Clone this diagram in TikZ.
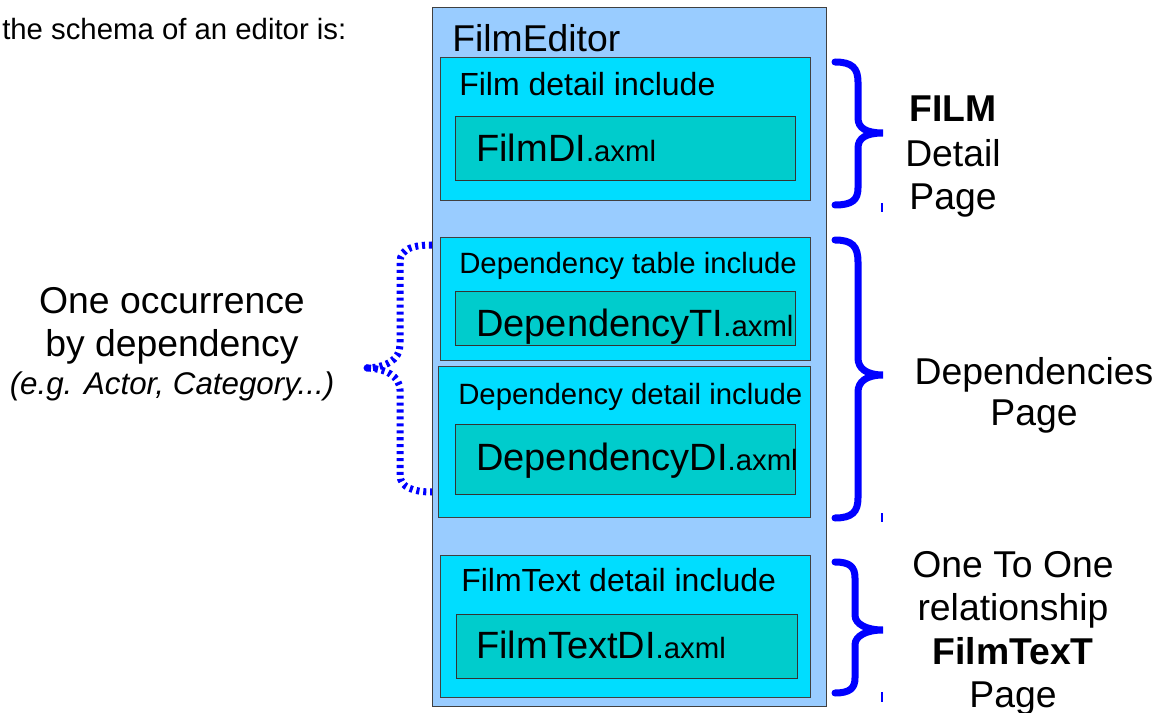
\documentclass[tikz,border=0pt]{standalone}
\usepackage{fontspec}
\setmainfont{Liberation Sans}
\definecolor{outerblue}{RGB}{153,204,255}
\definecolor{boxcyan}{RGB}{0,221,255}
\definecolor{innerteal}{RGB}{0,204,204}
\definecolor{braceblue}{RGB}{0,0,255}
\newcommand{\bigfs}{\fontsize{28}{33}\selectfont}
\newcommand{\lblfs}{\fontsize{24}{28}\selectfont}
\newcommand{\deplblfs}{\fontsize{22}{26}\selectfont}
\newcommand{\fname}[1]{{\fontsize{28.5}{32}\selectfont #1}{\fontsize{22}{26}\selectfont .axml}}
\begin{document}
\begin{tikzpicture}[x=0.75pt,y=-0.75pt,
  outerbox/.style={draw=black!75, fill=outerblue, line width=0.7pt, anchor=north west, inner sep=0pt},
  incbox/.style={draw=black!75, fill=boxcyan, line width=0.7pt, anchor=north west, inner sep=0pt},
  filebox/.style={draw=black!80, fill=innerteal, line width=0.7pt, anchor=north west, inner sep=0pt},
  txt/.style={anchor=base west, inner sep=0pt},
  ctxt/.style={anchor=base, inner sep=0pt},
  bracepath/.style={draw=braceblue, line width=5.25pt, line cap=round},
  dbracepath/.style={draw=braceblue, line width=5.25pt, dash pattern=on 2.3pt off 2.9pt},
  tickmark/.style={draw=braceblue, line width=1.3pt}]
\useasboundingbox (0,0) rectangle (1158,713);

% title
\node[txt] (title) at (2,40) {\deplblfs the schema of an editor is:};

% outer editor box
\node[outerbox, minimum width=295.5pt, minimum height=524.25pt] (editor) at (432,7) {};
\node[txt] (editorlbl) at (452,52) {\fontsize{28}{32}\selectfont FilmEditor};

% film detail include
\node[incbox, minimum width=277.5pt, minimum height=107.25pt] (box1) at (440,57) {};
\node[txt] (lbl1) at (459,96) {\lblfs Film detail include};
\node[filebox, minimum width=255pt, minimum height=48pt] (file1) at (455,116) {};
\node[txt] (fn1) at (476,162) {\fname{FilmDI}};

% dependency table include
\node[incbox, minimum width=277.5pt, minimum height=92.25pt] (box2) at (440,237) {};
\node[txt] (lbl2) at (459,274) {\deplblfs Dependency table include};
\node[filebox, minimum width=255pt, minimum height=40.5pt] (file2) at (455,291) {};
\node[txt] (fn2) at (476,336) {\fname{DependencyTI}};

% dependency detail include
\node[incbox, minimum width=279pt, minimum height=113.25pt] (box3) at (438,366) {};
\node[txt] (lbl3) at (458,404) {\deplblfs Dependency detail include};
\node[filebox, minimum width=255pt, minimum height=52.5pt] (file3) at (455,424) {};
\node[txt] (fn3) at (476,470) {\fname{DependencyDI}};

% filmtext detail include
\node[incbox, minimum width=277.5pt, minimum height=106.5pt] (box4) at (440,555) {};
\node[txt] (lbl4) at (461,591) {\lblfs FilmText detail include};
\node[filebox, minimum width=255.75pt, minimum height=48pt] (file4) at (456,614) {};
\node[txt] (fn4) at (476,658) {\fname{FilmTextDI}};

% right braces
\path[bracepath] (835,62) .. controls (852,62) and (858,68) .. (858,82) -- (858,118) .. controls (858,128) and (866,133) .. (883,133) .. controls (866,133) and (858,138) .. (858,148) -- (858,188) .. controls (858,200) and (852,205) .. (835,205);
\path[bracepath] (835,240) .. controls (852,240) and (858,246) .. (858,262) -- (858,358) .. controls (858,368) and (866,375) .. (883,375) .. controls (866,375) and (858,382) .. (858,392) -- (858,498) .. controls (858,512) and (852,518) .. (835,518);
\path[bracepath] (835,562) .. controls (850,562) and (855,567) .. (855,578) -- (855,615) .. controls (855,624) and (866,630) .. (883,630) .. controls (866,630) and (855,636) .. (855,645) -- (855,678) .. controls (855,688) and (850,693) .. (835,693);
\coordinate (t1a) at (882,203); \coordinate (t1b) at (882,212);
\coordinate (t2a) at (882,513); \coordinate (t2b) at (882,522);
\coordinate (t3a) at (882,692); \coordinate (t3b) at (882,702);
\draw[tickmark] (t1a) -- (t1b);
\draw[tickmark] (t2a) -- (t2b);
\draw[tickmark] (t3a) -- (t3b);

% left dotted brace
\path[dbracepath] (432,245) .. controls (415,245) and (400,248) .. (400,262) -- (400,345) .. controls (400,360) and (385,368) .. (365,368) .. controls (385,368) and (400,376) .. (400,390) -- (400,475) .. controls (400,488) and (415,492) .. (432,492);
\fill[braceblue] (367,368) circle (2.6pt);

% right texts
\node[ctxt] (r1a) at (953,122) {\bigfs\bfseries FILM};
\node[ctxt] (r1b) at (953,167) {\bigfs Detail};
\node[ctxt] (r1c) at (953,210) {\bigfs Page};
\node[ctxt] (r2a) at (1034,384) {\bigfs Dependencies};
\node[ctxt] (r2b) at (1034,425) {\bigfs Page};
\node[ctxt] (r3a) at (1013,577) {\bigfs One To One};
\node[ctxt] (r3b) at (1013,620) {\bigfs relationship};
\node[ctxt] (r3c) at (1013,664) {\bigfs\bfseries FilmTexT};
\node[ctxt] (r3d) at (1013,707) {\bigfs Page};

% left texts
\node[ctxt] (l1) at (172,314) {\bigfs One occurrence};
\node[ctxt] (l2) at (172,357) {\bigfs by dependency};
\node[ctxt] (l3) at (172,394) {\fontsize{23.5}{27}\selectfont\itshape (e.g. Actor, Category...)};
\end{tikzpicture}
\end{document}
